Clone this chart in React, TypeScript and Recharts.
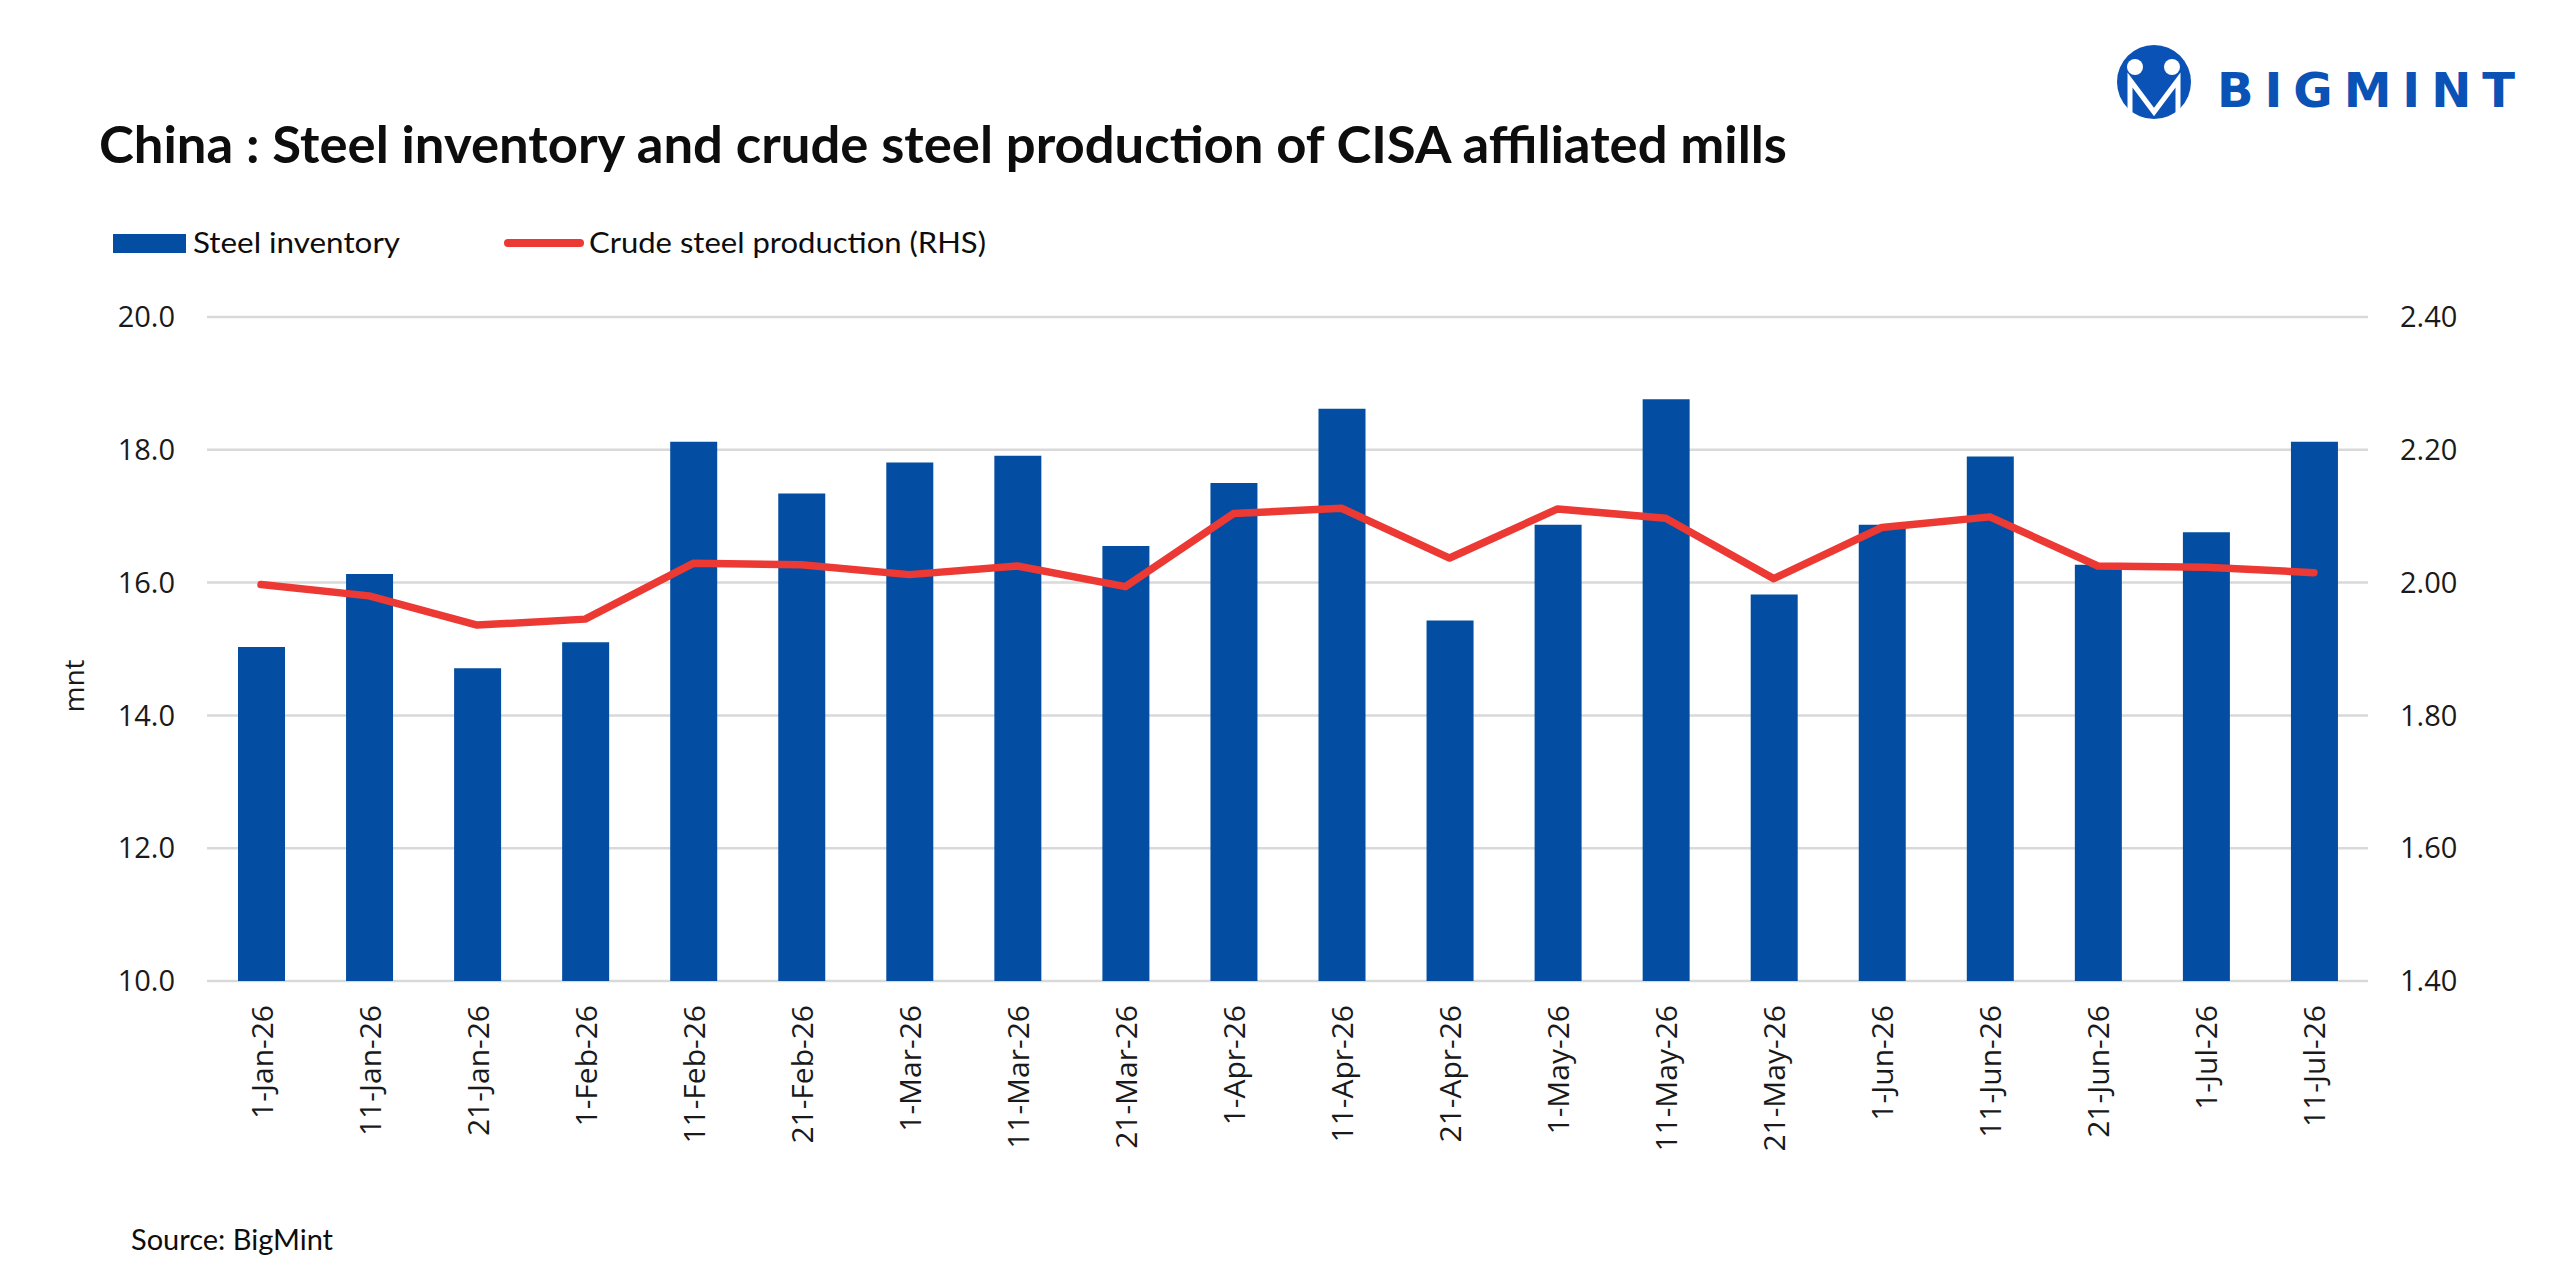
import React from "react";
import {
  ComposedChart,
  Bar,
  Line,
  XAxis,
  YAxis,
  CartesianGrid,
} from "recharts";

const dates = [
  "1-Jan-26", "11-Jan-26", "21-Jan-26", "1-Feb-26", "11-Feb-26",
  "21-Feb-26", "1-Mar-26", "11-Mar-26", "21-Mar-26", "1-Apr-26",
  "11-Apr-26", "21-Apr-26", "1-May-26", "11-May-26", "21-May-26",
  "1-Jun-26", "11-Jun-26", "21-Jun-26", "1-Jul-26", "11-Jul-26",
];

// Steel inventory, mnt (LHS)
const inventory = [
  15.03, 16.13, 14.71, 15.1, 18.12, 17.34, 17.81, 17.91, 16.55, 17.5,
  18.62, 15.43, 16.87, 18.76, 15.82, 16.87, 17.9, 16.27, 16.76, 18.12,
];

// Crude steel production, mnt (RHS)
const production = [
  1.997, 1.98, 1.936, 1.945, 2.029, 2.027, 2.012, 2.025, 1.994, 2.104,
  2.112, 2.037, 2.111, 2.097, 2.006, 2.083, 2.099, 2.025, 2.023, 2.015,
];

const leftTicks = [10, 12, 14, 16, 18, 20];
const rightTicks = [1.4, 1.6, 1.8, 2.0, 2.2, 2.4];

const BLUE = "#034ea2";
const RED = "#ec3934";
const TICK_FONT = "'Open Sans', sans-serif";
const TEXT_FONT = "Lato, 'Open Sans', sans-serif";

const data = dates.map((d, i) => ({
  date: d,
  inventory: inventory[i],
  production: production[i],
}));

const DateTick = ({ x, y, payload }: any) => (
  <text
    transform={`translate(${x},${y}) rotate(-90)`}
    textAnchor="end"
    dominantBaseline="central"
    fontFamily={TICK_FONT}
    fontSize={30}
    fill="#1a1a1a"
  >
    {payload.value}
  </text>
);

const Logo = () => (
  <g>
    <circle cx={2154} cy={82} r={37} fill="#0a52b5" />
    <circle cx={2135} cy={67} r={8} fill="#fff" />
    <circle cx={2172} cy={67} r={8} fill="#fff" />
    <path
      d="M2130 112 L2130 80 L2154 112 L2178 80 L2178 112"
      stroke="#fff"
      strokeWidth={5}
      fill="none"
    />
    <text
      x={2217}
      y={107}
      fontFamily="'DejaVu Sans', sans-serif"
      fontWeight="bold"
      fontSize={48}
      fill="#0a52b5"
      textLength={298}
      lengthAdjust="spacing"
    >
      BIGMINT
    </text>
  </g>
);

const App = () => {
  return (
    <div
      style={{
        position: "absolute",
        left: 0,
        top: 0,
        width: 2560,
        height: 1280,
        background: "#fff",
      }}
    >
      <ComposedChart
        width={2560}
        height={1280}
        data={data}
        margin={{ top: 317, right: 0, left: 0, bottom: 0 }}
      >
        <CartesianGrid
          yAxisId="left"
          vertical={false}
          stroke="#d9d9d9"
          strokeWidth={2.5}
        />
        <XAxis
          dataKey="date"
          interval={0}
          height={299}
          axisLine={false}
          tickLine={false}
          tickSize={0}
          tickMargin={24}
          tick={<DateTick />}
        />
        <YAxis
          yAxisId="left"
          orientation="left"
          width={207}
          domain={[10, 20]}
          ticks={leftTicks}
          tickFormatter={(v: number) => v.toFixed(1)}
          axisLine={false}
          tickLine={false}
          tickSize={0}
          tickMargin={32}
          tick={{ fontFamily: TICK_FONT, fontSize: 29, fill: "#1a1a1a" }}
        />
        <YAxis
          yAxisId="right"
          orientation="right"
          width={192}
          domain={[1.4, 2.4]}
          ticks={rightTicks}
          tickFormatter={(v: number) => v.toFixed(2)}
          axisLine={false}
          tickLine={false}
          tickSize={0}
          tickMargin={32}
          tick={{ fontFamily: TICK_FONT, fontSize: 29, fill: "#1a1a1a" }}
        />
        <Bar
          yAxisId="left"
          dataKey="inventory"
          fill={BLUE}
          barSize={47}
          isAnimationActive={false}
        />
        <Line
          yAxisId="right"
          dataKey="production"
          type="linear"
          stroke={RED}
          strokeWidth={7.5}
          strokeLinecap="round"
          strokeLinejoin="round"
          dot={false}
          activeDot={false}
          isAnimationActive={false}
        />
      </ComposedChart>

      <svg
        width={2560}
        height={1280}
        style={{ position: "absolute", left: 0, top: 0, pointerEvents: "none" }}
      >
        <text
          x={99}
          y={163}
          fontFamily={TEXT_FONT}
          fontWeight="bold"
          fontSize={51}
          fill="#0d0d0d"
          textLength={1688}
          lengthAdjust="spacingAndGlyphs"
        >
          China : Steel inventory and crude steel production of CISA affiliated mills
        </text>

        {/* legend */}
        <rect x={113} y={234} width={73} height={19} fill={BLUE} />
        <text
          x={193}
          y={253}
          fontFamily={TEXT_FONT}
          fontSize={29}
          fill="#0d0d0d"
          textLength={207}
          lengthAdjust="spacingAndGlyphs"
        >
          Steel inventory
        </text>
        <line
          x1={508}
          y1={243}
          x2={580}
          y2={243}
          stroke={RED}
          strokeWidth={8}
          strokeLinecap="round"
        />
        <text
          x={589}
          y={253}
          fontFamily={TEXT_FONT}
          fontSize={29}
          fill="#0d0d0d"
          textLength={397}
          lengthAdjust="spacingAndGlyphs"
        >
          Crude steel production (RHS)
        </text>

        <text
          transform="translate(73,686) rotate(-90)"
          textAnchor="middle"
          dominantBaseline="central"
          fontFamily={TICK_FONT}
          fontSize={28}
          fill="#1a1a1a"
        >
          mnt
        </text>

        <text
          x={131}
          y={1250}
          fontFamily={TEXT_FONT}
          fontSize={29}
          fill="#0d0d0d"
        >
          Source: BigMint
        </text>

        <Logo />
      </svg>
    </div>
  );
};

export default App;
